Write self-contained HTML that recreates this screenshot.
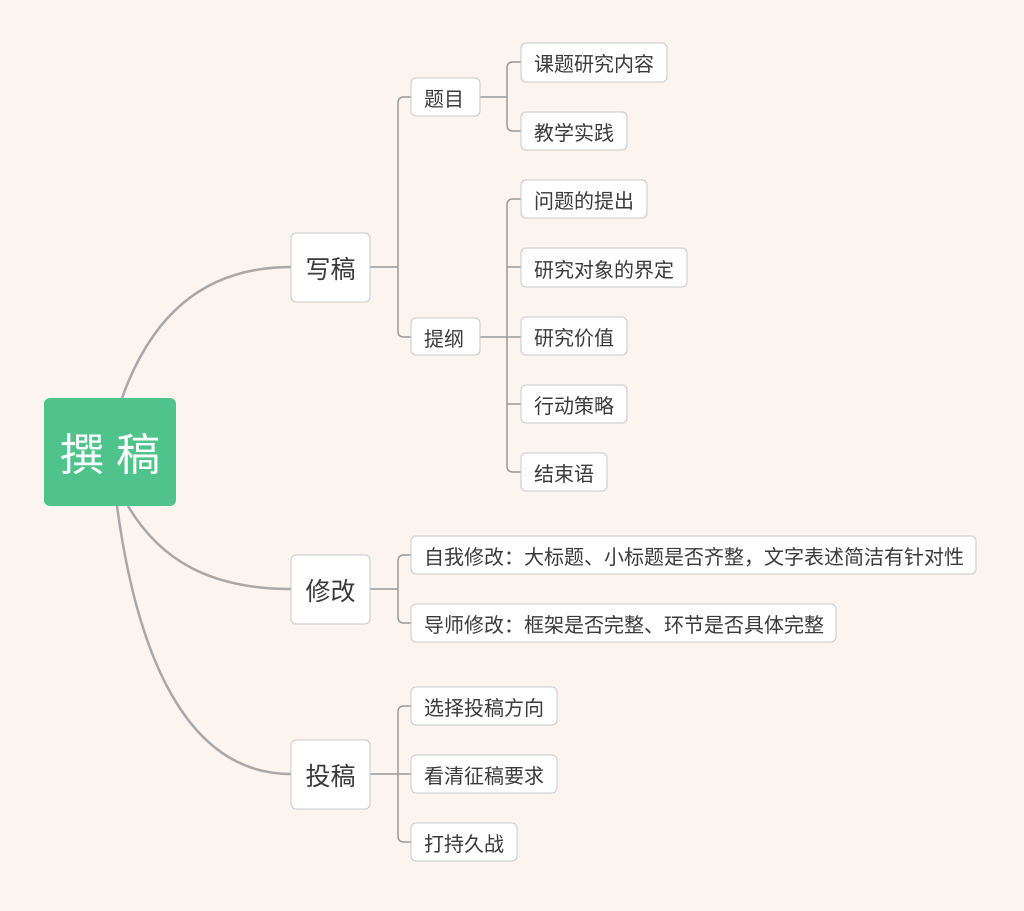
<!DOCTYPE html>
<html><head><meta charset="utf-8"><style>
html,body{margin:0;padding:0;background:#fcf4ee;}
svg{display:block;}
text{font-family:"Liberation Sans","Noto Sans CJK SC",sans-serif;fill:#3a3a3a;}
.b{fill:#fff;stroke:#c8c8c8;stroke-width:1;}
.l{fill:none;stroke:#9a9a9a;stroke-width:1.5;}
.c{fill:none;stroke:#a8a8a8;stroke-width:2.5;}
</style></head><body>
<svg width="1024" height="911" viewBox="0 0 1024 911" xmlns="http://www.w3.org/2000/svg">
<rect width="1024" height="911" fill="#fcf4ee"/>
<path class="c" d="M122 398 C150 320 200 267 291 267"/>
<path class="c" d="M128 506 C160 560 210 589 291 589"/>
<path class="c" d="M117 506 C135 640 180 774 291 774"/>
<path class="l" d="M370 267 H398 M411 97 H404 Q398 97 398 103 V331 Q398 337 404 337 H411"/>
<path class="l" d="M480 97 H507 M521 62 H513 Q507 62 507 68 V125 Q507 131 513 131 H521"/>
<path class="l" d="M480 337 H521 M521 199 H513 Q507 199 507 205 V466 Q507 472 513 472 H521 M507 267 H521 M507 404 H521"/>
<path class="l" d="M370 589 H398 M411 555 H404 Q398 555 398 561 V617 Q398 623 404 623 H411"/>
<path class="l" d="M370 774 H411 M411 706 H404 Q398 706 398 712 V836 Q398 842 404 842 H411"/>
<rect x="44" y="398" width="132" height="108" rx="6" fill="#4fc38b"/>
<text x="110" y="470" text-anchor="middle" font-size="44" style="fill:#fff">撰 稿</text>
<rect class="b" x="291" y="233" width="79" height="69" rx="5"/><text x="330.5" y="278" text-anchor="middle" font-size="25">写稿</text>
<rect class="b" x="291" y="555" width="79" height="69" rx="5"/><text x="330.5" y="600" text-anchor="middle" font-size="25">修改</text>
<rect class="b" x="291" y="740" width="79" height="69" rx="5"/><text x="330.5" y="785" text-anchor="middle" font-size="25">投稿</text>
<g font-size="20">
<rect class="b" x="411" y="78" width="69" height="38" rx="5"/><text x="424" y="106">题目</text>
<rect class="b" x="411" y="318" width="69" height="37" rx="5"/><text x="424" y="346">提纲</text>
<rect class="b" x="521" y="43" width="146" height="39" rx="5"/><text x="534" y="71">课题研究内容</text>
<rect class="b" x="521" y="112" width="106" height="38" rx="5"/><text x="534" y="140">教学实践</text>
<rect class="b" x="521" y="180" width="126" height="38" rx="5"/><text x="534" y="208">问题的提出</text>
<rect class="b" x="521" y="248" width="166" height="39" rx="5"/><text x="534" y="277">研究对象的界定</text>
<rect class="b" x="521" y="317" width="106" height="38" rx="5"/><text x="534" y="345">研究价值</text>
<rect class="b" x="521" y="385" width="106" height="38" rx="5"/><text x="534" y="413">行动策略</text>
<rect class="b" x="521" y="453" width="86" height="38" rx="5"/><text x="534" y="481">结束语</text>
<rect class="b" x="411" y="536" width="565" height="38" rx="5"/><text x="424" y="564" textLength="540" lengthAdjust="spacingAndGlyphs">自我修改：大标题、小标题是否齐整，文字表述简洁有针对性</text>
<rect class="b" x="411" y="604" width="425" height="38" rx="5"/><text x="424" y="632" textLength="400" lengthAdjust="spacingAndGlyphs">导师修改：框架是否完整、环节是否具体完整</text>
<rect class="b" x="411" y="687" width="146" height="38" rx="5"/><text x="424" y="715">选择投稿方向</text>
<rect class="b" x="411" y="755" width="146" height="38" rx="5"/><text x="424" y="783">看清征稿要求</text>
<rect class="b" x="411" y="823" width="106" height="38" rx="5"/><text x="424" y="851">打持久战</text>
</g>
</svg>
</body></html>
